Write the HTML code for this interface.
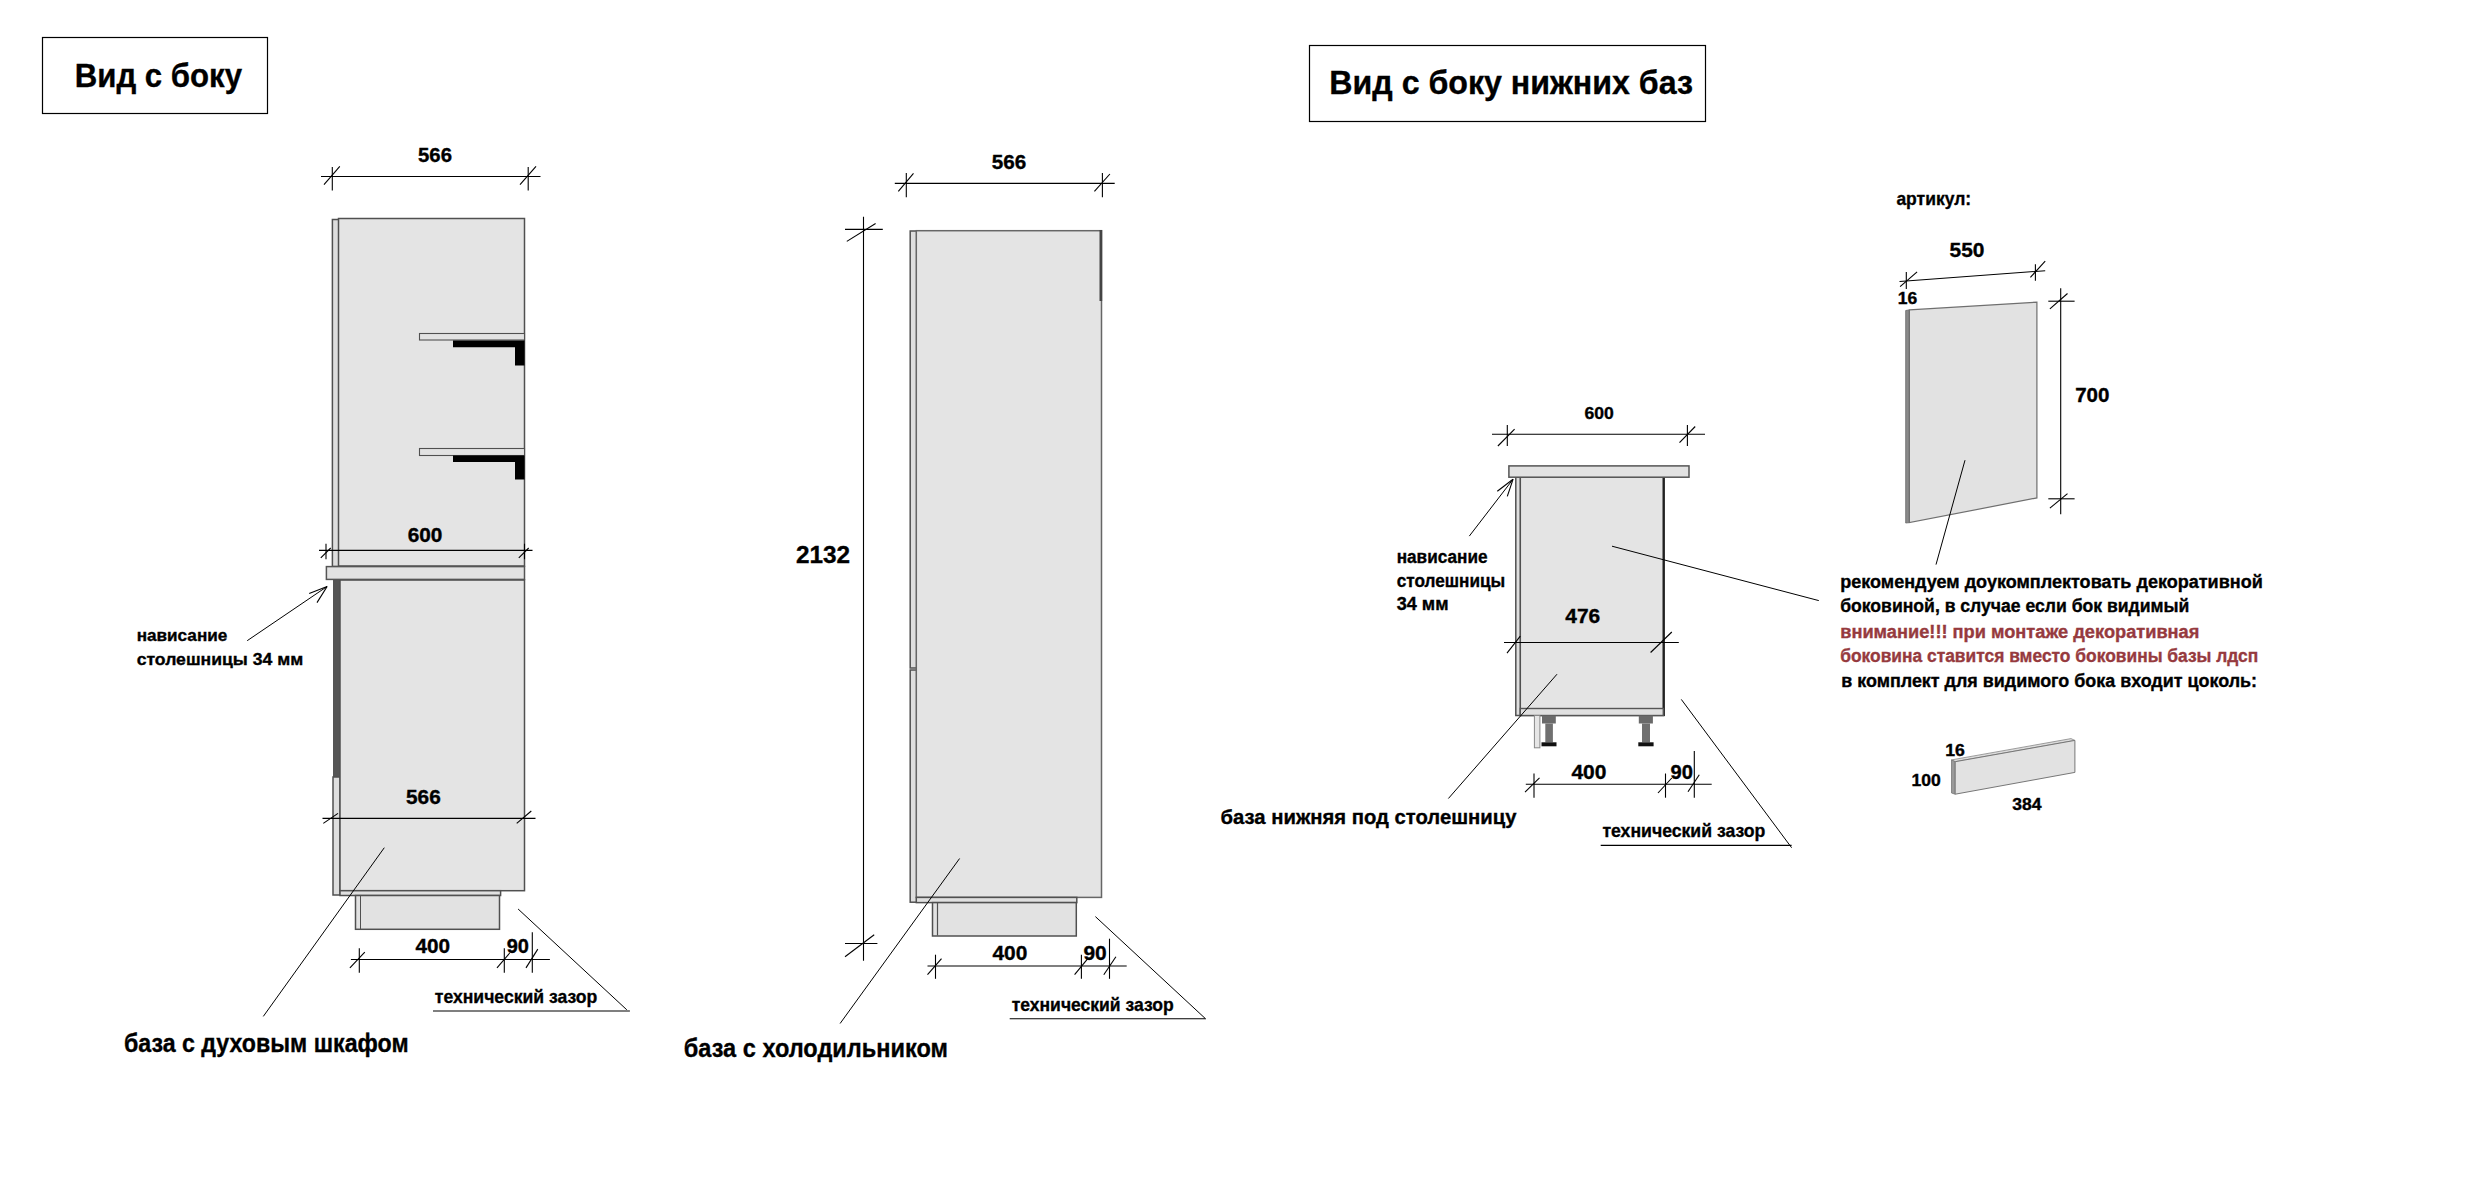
<!DOCTYPE html>
<html><head><meta charset="utf-8"><style>
html,body{margin:0;padding:0;background:#fff;width:2484px;height:1198px;overflow:hidden}
svg{display:block;font-family:"Liberation Sans", sans-serif}
</style></head><body>
<svg width="2484" height="1198" viewBox="0 0 2484 1198">
<rect x="0" y="0" width="2484" height="1198" fill="#fff"/>
<rect x="42.5" y="37.5" width="225" height="76" fill="none" stroke="#000" stroke-width="1.2"/>
<rect x="1309.5" y="45.5" width="396" height="76" fill="none" stroke="#000" stroke-width="1.2"/>
<rect x="332.4" y="219.5" width="6.4" height="347" fill="#dedede" stroke="#505050" stroke-width="1.5"/>
<rect x="338.5" y="218.5" width="186" height="347.5" fill="#e4e4e4" stroke="#505050" stroke-width="1.5"/>
<rect x="419.5" y="333.5" width="105" height="6.5" fill="#e2e2e2" stroke="#505050" stroke-width="1.1"/>
<polygon points="453,340.5 524.5,340.5 524.5,365.5 515,365.5 515,347.3 453,347.3" fill="#000" stroke="none" stroke-width="1"/>
<rect x="419.5" y="448.5" width="105" height="7" fill="#e2e2e2" stroke="#505050" stroke-width="1.1"/>
<polygon points="453,455.5 524.5,455.5 524.5,479.6 515,479.6 515,462 453,462" fill="#000" stroke="none" stroke-width="1"/>
<polygon points="333,580 340,580 340,777 333,777" fill="#555" stroke="none" stroke-width="1"/>
<rect x="333" y="777" width="7" height="118" fill="#dedede" stroke="#505050" stroke-width="1.5"/>
<rect x="340" y="580" width="184.5" height="310.7" fill="#e4e4e4" stroke="#505050" stroke-width="1.5"/>
<rect x="340" y="890.7" width="160.6" height="4.8" fill="#e0e0e0" stroke="#505050" stroke-width="1.5"/>
<rect x="355.5" y="895.5" width="144" height="33.8" fill="#e2e2e2" stroke="#505050" stroke-width="1.5"/>
<line x1="360.5" y1="896" x2="360.5" y2="929" stroke="#505050" stroke-width="1"/>
<rect x="326.4" y="566.6" width="198.1" height="12.8" fill="#e2e2e2" stroke="#555" stroke-width="1.5"/>
<line x1="321" y1="176.5" x2="540.5" y2="176.5" stroke="#000" stroke-width="1.1"/>
<line x1="332.3" y1="167" x2="332.3" y2="190.5" stroke="#000" stroke-width="1.1"/>
<line x1="324" y1="184.6" x2="339.8" y2="166.3" stroke="#000" stroke-width="1.1"/>
<line x1="528.2" y1="167" x2="528.2" y2="190.5" stroke="#000" stroke-width="1.1"/>
<line x1="520" y1="184.6" x2="536" y2="166.3" stroke="#000" stroke-width="1.1"/>
<line x1="319" y1="550.4" x2="532.5" y2="550.4" stroke="#000" stroke-width="1.1"/>
<line x1="326" y1="543.7" x2="326" y2="559.2" stroke="#000" stroke-width="1.1"/>
<line x1="320.8" y1="557.9" x2="330.7" y2="548" stroke="#000" stroke-width="1.1"/>
<line x1="524.5" y1="543.7" x2="524.5" y2="559.2" stroke="#000" stroke-width="1.1"/>
<line x1="518.8" y1="557.9" x2="528.7" y2="548" stroke="#000" stroke-width="1.1"/>
<line x1="322.5" y1="818.4" x2="535.5" y2="818.4" stroke="#000" stroke-width="1.1"/>
<line x1="323.3" y1="823.4" x2="338" y2="813.4" stroke="#000" stroke-width="1.1"/>
<line x1="516.7" y1="823.4" x2="531.3" y2="811" stroke="#000" stroke-width="1.1"/>
<line x1="350.9" y1="959.5" x2="549.9" y2="959.5" stroke="#000" stroke-width="1.1"/>
<line x1="359.3" y1="948.2" x2="359.3" y2="972.8" stroke="#000" stroke-width="1.1"/>
<line x1="349.9" y1="967.9" x2="364.8" y2="952.2" stroke="#000" stroke-width="1.1"/>
<line x1="504.3" y1="948.2" x2="504.3" y2="972.8" stroke="#000" stroke-width="1.1"/>
<line x1="497" y1="967.9" x2="509.7" y2="953" stroke="#000" stroke-width="1.1"/>
<line x1="532.3" y1="932.2" x2="532.3" y2="972.8" stroke="#000" stroke-width="1.1"/>
<line x1="526" y1="967.9" x2="537.8" y2="949.1" stroke="#000" stroke-width="1.1"/>
<line x1="247.2" y1="640.7" x2="327.1" y2="586.5" stroke="#000" stroke-width="1.0"/>
<line x1="327.1" y1="586.5" x2="309.2" y2="593.4" stroke="#000" stroke-width="1.1"/>
<line x1="327.1" y1="586.5" x2="317" y2="602.6" stroke="#000" stroke-width="1.1"/>
<line x1="384.3" y1="847.7" x2="263.3" y2="1016.4" stroke="#000" stroke-width="1.0"/>
<line x1="518.1" y1="909" x2="626.8" y2="1009.8" stroke="#000" stroke-width="1.0"/>
<line x1="433" y1="1011" x2="629.9" y2="1011" stroke="#000" stroke-width="1.1"/>
<rect x="910.2" y="231" width="6.5" height="437" fill="#dedede" stroke="#505050" stroke-width="1.5"/>
<rect x="910.2" y="670" width="6.5" height="232.2" fill="#dedede" stroke="#505050" stroke-width="1.5"/>
<rect x="916.3" y="230.7" width="185.2" height="666.7" fill="#e4e4e4" stroke="#666" stroke-width="1.5"/>
<polygon points="1099.5,230 1102.2,230 1102.2,301 1099.5,301" fill="#444" stroke="none" stroke-width="1"/>
<rect x="916.3" y="897.4" width="160.5" height="5.2" fill="#e0e0e0" stroke="#505050" stroke-width="1.5"/>
<rect x="932.5" y="902.6" width="143.8" height="33.4" fill="#e2e2e2" stroke="#505050" stroke-width="1.5"/>
<line x1="937.5" y1="903" x2="937.5" y2="935.5" stroke="#505050" stroke-width="1.2"/>
<line x1="894.8" y1="183.4" x2="1114.7" y2="183.4" stroke="#000" stroke-width="1.1"/>
<line x1="906.3" y1="173" x2="906.3" y2="197.3" stroke="#000" stroke-width="1.1"/>
<line x1="898.3" y1="191.4" x2="913.5" y2="173.3" stroke="#000" stroke-width="1.1"/>
<line x1="1102.4" y1="173" x2="1102.4" y2="197.3" stroke="#000" stroke-width="1.1"/>
<line x1="1094.4" y1="191.4" x2="1109.9" y2="174" stroke="#000" stroke-width="1.1"/>
<line x1="863.5" y1="216.8" x2="863.5" y2="960.7" stroke="#000" stroke-width="1.1"/>
<line x1="845" y1="229.4" x2="882.8" y2="229.4" stroke="#000" stroke-width="1.1"/>
<line x1="846.8" y1="241.4" x2="875.6" y2="223.5" stroke="#000" stroke-width="1.1"/>
<line x1="845" y1="943.5" x2="877.4" y2="943.5" stroke="#000" stroke-width="1.1"/>
<line x1="845" y1="956.7" x2="874.2" y2="934.7" stroke="#000" stroke-width="1.1"/>
<line x1="927.5" y1="966" x2="1126.7" y2="966" stroke="#000" stroke-width="1.1"/>
<line x1="935.5" y1="954.7" x2="935.5" y2="978.8" stroke="#000" stroke-width="1.1"/>
<line x1="927.5" y1="974.7" x2="941.5" y2="958.7" stroke="#000" stroke-width="1.1"/>
<line x1="1081.4" y1="954.7" x2="1081.4" y2="978.8" stroke="#000" stroke-width="1.1"/>
<line x1="1074.6" y1="974.7" x2="1087.8" y2="958.7" stroke="#000" stroke-width="1.1"/>
<line x1="1109.5" y1="938.7" x2="1109.5" y2="978.8" stroke="#000" stroke-width="1.1"/>
<line x1="1103.8" y1="974.7" x2="1115.9" y2="956.7" stroke="#000" stroke-width="1.1"/>
<line x1="959.6" y1="858.5" x2="840.1" y2="1023.5" stroke="#000" stroke-width="1.0"/>
<line x1="1095.4" y1="916.6" x2="1205.6" y2="1018.8" stroke="#000" stroke-width="1.0"/>
<line x1="1009.7" y1="1018.8" x2="1205.6" y2="1018.8" stroke="#000" stroke-width="1.1"/>
<rect x="1515.8" y="477" width="4.8" height="238.5" fill="#dedede" stroke="#505050" stroke-width="1.5"/>
<rect x="1520.3" y="477" width="143.7" height="238.5" fill="#e4e4e4" stroke="#505050" stroke-width="1.5"/>
<polygon points="1662.5,477 1664.8,477 1664.8,716 1662.5,716" fill="#222" stroke="none" stroke-width="1"/>
<rect x="1520.3" y="708.5" width="143" height="7" fill="#e0e0e0" stroke="#555" stroke-width="1.4"/>
<rect x="1508.9" y="465.9" width="180.1" height="11.3" fill="#e2e2e2" stroke="#555" stroke-width="1.5"/>
<rect x="1534.4" y="715.5" width="5.5" height="32.3" fill="#e6e6e6" stroke="#888" stroke-width="1"/>
<polygon points="1542,715.5 1555.8,715.5 1555.8,723.5 1542,723.5" fill="#6a6a6a" stroke="none" stroke-width="1"/>
<polygon points="1545.3,723.5 1552.9,723.5 1552.9,742.3 1545.3,742.3" fill="#707070" stroke="none" stroke-width="1"/>
<polygon points="1541.5,742.3 1556.5,742.3 1556.5,746.3 1541.5,746.3" fill="#111" stroke="none" stroke-width="1"/>
<polygon points="1638.8,715.5 1652.9,715.5 1652.9,723.5 1638.8,723.5" fill="#6a6a6a" stroke="none" stroke-width="1"/>
<polygon points="1642,723.5 1650,723.5 1650,742.3 1642,742.3" fill="#707070" stroke="none" stroke-width="1"/>
<polygon points="1638.3,742.3 1653.6000000000001,742.3 1653.6000000000001,746.3 1638.3,746.3" fill="#111" stroke="none" stroke-width="1"/>
<line x1="1492" y1="434.25" x2="1705" y2="434.25" stroke="#000" stroke-width="1.1"/>
<line x1="1507.3" y1="425" x2="1507.3" y2="446" stroke="#000" stroke-width="1.1"/>
<line x1="1497.9" y1="446" x2="1514.6" y2="429.2" stroke="#000" stroke-width="1.1"/>
<line x1="1687.4" y1="425" x2="1687.4" y2="446" stroke="#000" stroke-width="1.1"/>
<line x1="1679.5" y1="442.6" x2="1695.2" y2="426.5" stroke="#000" stroke-width="1.1"/>
<line x1="1504" y1="642.5" x2="1678.8" y2="642.5" stroke="#000" stroke-width="1.1"/>
<line x1="1507" y1="653.2" x2="1520.3" y2="636.2" stroke="#000" stroke-width="1.1"/>
<line x1="1650.6" y1="652.5" x2="1671.8" y2="632" stroke="#000" stroke-width="1.1"/>
<line x1="1525.8" y1="784.3" x2="1711.7" y2="784.3" stroke="#000" stroke-width="1.1"/>
<line x1="1534" y1="773.5" x2="1534" y2="797.7" stroke="#000" stroke-width="1.1"/>
<line x1="1525" y1="792.2" x2="1539.5" y2="777.8" stroke="#000" stroke-width="1.1"/>
<line x1="1665.5" y1="773.5" x2="1665.5" y2="797.7" stroke="#000" stroke-width="1.1"/>
<line x1="1658" y1="793" x2="1671.8" y2="778" stroke="#000" stroke-width="1.1"/>
<line x1="1694.3" y1="751" x2="1694.3" y2="797.7" stroke="#000" stroke-width="1.1"/>
<line x1="1688" y1="791.7" x2="1699.3" y2="774.8" stroke="#000" stroke-width="1.1"/>
<line x1="1469.3" y1="536.1" x2="1513" y2="479.3" stroke="#000" stroke-width="1.0"/>
<line x1="1513" y1="479.3" x2="1497.3" y2="491.2" stroke="#000" stroke-width="1.1"/>
<line x1="1513" y1="479.3" x2="1507.3" y2="496.4" stroke="#000" stroke-width="1.1"/>
<line x1="1557" y1="674.2" x2="1448.4" y2="798.5" stroke="#000" stroke-width="1.0"/>
<line x1="1612" y1="546.2" x2="1818.8" y2="600.6" stroke="#000" stroke-width="1.0"/>
<line x1="1681.3" y1="699.4" x2="1791.6" y2="847.7" stroke="#000" stroke-width="1.0"/>
<line x1="1600.7" y1="845.4" x2="1791.6" y2="845.4" stroke="#000" stroke-width="1.1"/>
<polygon points="1905.7,310.5 1909.4,309.9 1909.4,522.6 1905.7,523" fill="#8a8a8a" stroke="#666" stroke-width="0.8"/>
<polygon points="1909.4,309.9 2036.9,302.1 2036.9,497.9 1909.4,522.6" fill="#e2e2e2" stroke="#6f6f6f" stroke-width="1.2"/>
<line x1="1899.5" y1="281.5" x2="2045.2" y2="270.7" stroke="#000" stroke-width="1.1"/>
<line x1="1906.3" y1="271.9" x2="1906.3" y2="288.9" stroke="#000" stroke-width="1.1"/>
<line x1="1900.1" y1="286.7" x2="1917.1" y2="271.9" stroke="#000" stroke-width="1.1"/>
<line x1="2035.4" y1="264.3" x2="2035.4" y2="280.7" stroke="#000" stroke-width="1.1"/>
<line x1="2030.4" y1="277.4" x2="2045.2" y2="261.1" stroke="#000" stroke-width="1.1"/>
<line x1="2060.7" y1="288.2" x2="2060.7" y2="514.2" stroke="#000" stroke-width="1.1"/>
<line x1="2048.3" y1="301.2" x2="2074.6" y2="301.2" stroke="#000" stroke-width="1.1"/>
<line x1="2049.9" y1="308.9" x2="2067.5" y2="293.5" stroke="#000" stroke-width="1.1"/>
<line x1="2048.3" y1="498.8" x2="2074.6" y2="498.8" stroke="#000" stroke-width="1.1"/>
<line x1="2049.9" y1="508.1" x2="2067.5" y2="493.6" stroke="#000" stroke-width="1.1"/>
<line x1="1965" y1="460.2" x2="1936" y2="564.6" stroke="#000" stroke-width="1.0"/>
<polygon points="1951.5,759.9 2071,738.6 2074.9,740.4 1955.2,761.7" fill="#dcdcdc" stroke="#888" stroke-width="0.8"/>
<polygon points="1951.5,759.9 1955.2,761.7 1955.2,794.2 1951.5,793" fill="#9a9a9a" stroke="#777" stroke-width="0.8"/>
<polygon points="1955.2,761.7 2074.9,740.4 2074.9,772.4 1955.2,794.2" fill="#e2e2e2" stroke="#777" stroke-width="1"/>
<g font-family='"Liberation Sans", sans-serif'>
<text x="74.8" y="86.75" font-size="32.7" textLength="167.2" lengthAdjust="spacingAndGlyphs" fill="#000" stroke="#000" stroke-width="0.35" font-weight="bold">Вид с боку</text>
<text x="1329.3" y="93.8" font-size="33" textLength="363.7" lengthAdjust="spacingAndGlyphs" fill="#000" stroke="#000" stroke-width="0.35" font-weight="bold">Вид с боку нижних баз</text>
<text x="418" y="161.7" font-size="20.5" textLength="34" lengthAdjust="spacingAndGlyphs" fill="#000" stroke="#000" stroke-width="0.35" font-weight="bold">566</text>
<text x="407.7" y="541.8" font-size="19.3" textLength="34.7" lengthAdjust="spacingAndGlyphs" fill="#000" stroke="#000" stroke-width="0.35" font-weight="bold">600</text>
<text x="406" y="803.8" font-size="20" textLength="34.7" lengthAdjust="spacingAndGlyphs" fill="#000" stroke="#000" stroke-width="0.35" font-weight="bold">566</text>
<text x="991.8" y="168.7" font-size="20.3" textLength="34.5" lengthAdjust="spacingAndGlyphs" fill="#000" stroke="#000" stroke-width="0.35" font-weight="bold">566</text>
<text x="796" y="563" font-size="24" textLength="54" lengthAdjust="spacingAndGlyphs" fill="#000" stroke="#000" stroke-width="0.35" font-weight="bold">2132</text>
<text x="415.5" y="952.5" font-size="20" textLength="34.6" lengthAdjust="spacingAndGlyphs" fill="#000" stroke="#000" stroke-width="0.35" font-weight="bold">400</text>
<text x="506.7" y="952.5" font-size="20" textLength="22.3" lengthAdjust="spacingAndGlyphs" fill="#000" stroke="#000" stroke-width="0.35" font-weight="bold">90</text>
<text x="992.4" y="959.5" font-size="20" textLength="34.9" lengthAdjust="spacingAndGlyphs" fill="#000" stroke="#000" stroke-width="0.35" font-weight="bold">400</text>
<text x="1083.4" y="959.5" font-size="20" textLength="23.3" lengthAdjust="spacingAndGlyphs" fill="#000" stroke="#000" stroke-width="0.35" font-weight="bold">90</text>
<text x="1584.5" y="419.2" font-size="16.7" textLength="29.3" lengthAdjust="spacingAndGlyphs" fill="#000" stroke="#000" stroke-width="0.35" font-weight="bold">600</text>
<text x="1565.3" y="622.7" font-size="19.6" textLength="34.9" lengthAdjust="spacingAndGlyphs" fill="#000" stroke="#000" stroke-width="0.35" font-weight="bold">476</text>
<text x="1571.4" y="778.5" font-size="19.9" textLength="35" lengthAdjust="spacingAndGlyphs" fill="#000" stroke="#000" stroke-width="0.35" font-weight="bold">400</text>
<text x="1670.6" y="778.5" font-size="19.9" textLength="22.4" lengthAdjust="spacingAndGlyphs" fill="#000" stroke="#000" stroke-width="0.35" font-weight="bold">90</text>
<text x="1949.5" y="256.9" font-size="20.3" textLength="34.9" lengthAdjust="spacingAndGlyphs" fill="#000" stroke="#000" stroke-width="0.35" font-weight="bold">550</text>
<text x="1897.7" y="303.9" font-size="16" textLength="19.4" lengthAdjust="spacingAndGlyphs" fill="#000" stroke="#000" stroke-width="0.35" font-weight="bold">16</text>
<text x="2075.2" y="402.2" font-size="19.8" textLength="34.3" lengthAdjust="spacingAndGlyphs" fill="#000" stroke="#000" stroke-width="0.35" font-weight="bold">700</text>
<text x="1945.2" y="755.9" font-size="16.4" textLength="19.6" lengthAdjust="spacingAndGlyphs" fill="#000" stroke="#000" stroke-width="0.35" font-weight="bold">16</text>
<text x="1911.4" y="785.9" font-size="15.7" textLength="29.3" lengthAdjust="spacingAndGlyphs" fill="#000" stroke="#000" stroke-width="0.35" font-weight="bold">100</text>
<text x="2012.3" y="809.6" font-size="15.6" textLength="29.3" lengthAdjust="spacingAndGlyphs" fill="#000" stroke="#000" stroke-width="0.35" font-weight="bold">384</text>
<text x="136.7" y="640.7" font-size="17" textLength="90.6" lengthAdjust="spacingAndGlyphs" fill="#000" stroke="#000" stroke-width="0.35" font-weight="bold">нависание</text>
<text x="136.7" y="664.6" font-size="17" textLength="166.5" lengthAdjust="spacingAndGlyphs" fill="#000" stroke="#000" stroke-width="0.35" font-weight="bold">столешницы 34 мм</text>
<text x="123.9" y="1051.9" font-size="25.8" textLength="284.7" lengthAdjust="spacingAndGlyphs" fill="#000" stroke="#000" stroke-width="0.35" font-weight="bold">база с духовым шкафом</text>
<text x="683.8" y="1056.6" font-size="26" textLength="264.1" lengthAdjust="spacingAndGlyphs" fill="#000" stroke="#000" stroke-width="0.35" font-weight="bold">база с холодильником</text>
<text x="434.8" y="1002.6" font-size="18.4" textLength="162.4" lengthAdjust="spacingAndGlyphs" fill="#000" stroke="#000" stroke-width="0.35" font-weight="bold">технический зазор</text>
<text x="1011.7" y="1010.8" font-size="18.4" textLength="161.9" lengthAdjust="spacingAndGlyphs" fill="#000" stroke="#000" stroke-width="0.35" font-weight="bold">технический зазор</text>
<text x="1396.7" y="562.8" font-size="18" textLength="90.8" lengthAdjust="spacingAndGlyphs" fill="#000" stroke="#000" stroke-width="0.35" font-weight="bold">нависание</text>
<text x="1396.7" y="586.8" font-size="18" textLength="108.5" lengthAdjust="spacingAndGlyphs" fill="#000" stroke="#000" stroke-width="0.35" font-weight="bold">столешницы</text>
<text x="1396.7" y="610.2" font-size="18" textLength="51.8" lengthAdjust="spacingAndGlyphs" fill="#000" stroke="#000" stroke-width="0.35" font-weight="bold">34 мм</text>
<text x="1220.5" y="824.2" font-size="21" textLength="296" lengthAdjust="spacingAndGlyphs" fill="#000" stroke="#000" stroke-width="0.35" font-weight="bold">база нижняя под столешницу</text>
<text x="1602.4" y="836.7" font-size="19" textLength="163" lengthAdjust="spacingAndGlyphs" fill="#000" stroke="#000" stroke-width="0.35" font-weight="bold">технический зазор</text>
<text x="1896.4" y="204.9" font-size="19" textLength="74.7" lengthAdjust="spacingAndGlyphs" fill="#000" stroke="#000" stroke-width="0.35" font-weight="bold">артикул:</text>
<text x="1840.2" y="587.7" font-size="17.5" textLength="422.6" lengthAdjust="spacingAndGlyphs" fill="#000" stroke="#000" stroke-width="0.35" font-weight="bold">рекомендуем доукомплектовать декоративной</text>
<text x="1840.2" y="611.9" font-size="17.5" textLength="349.2" lengthAdjust="spacingAndGlyphs" fill="#000" stroke="#000" stroke-width="0.35" font-weight="bold">боковиной, в случае если бок видимый</text>
<text x="1840.2" y="638.2" font-size="17.5" textLength="359.2" lengthAdjust="spacingAndGlyphs" fill="#963a3e" stroke="#963a3e" stroke-width="0.35" font-weight="bold">внимание!!! при монтаже декоративная</text>
<text x="1840.2" y="661.8" font-size="17.5" textLength="418.1" lengthAdjust="spacingAndGlyphs" fill="#963a3e" stroke="#963a3e" stroke-width="0.35" font-weight="bold">боковина ставится вместо боковины базы лдсп</text>
<text x="1841.3" y="687.4" font-size="17.5" textLength="415.7" lengthAdjust="spacingAndGlyphs" fill="#000" stroke="#000" stroke-width="0.35" font-weight="bold">в комплект для видимого бока входит цоколь:</text>
</g>
</svg>
</body></html>
